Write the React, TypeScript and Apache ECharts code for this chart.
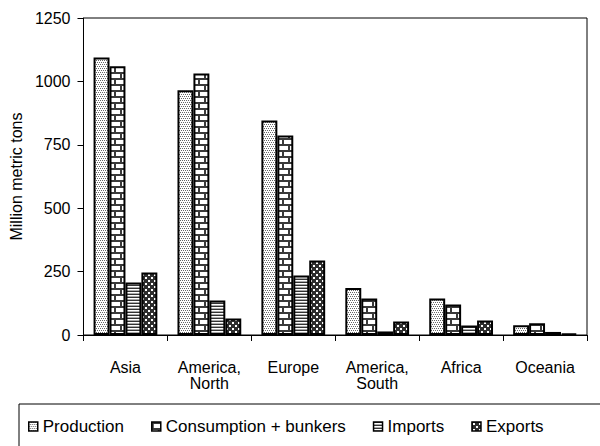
import React, { useEffect, useRef } from "react";
import * as echarts from "echarts";

const categories = ["Asia", "America,\nNorth", "Europe", "America,\nSouth", "Africa", "Oceania"];
const production = [1094, 965, 846, 185, 144, 38];
const consumption = [1060, 1031, 787, 144, 120, 46];
const imports = [207, 136, 235, 14, 37, 12];
const exportsData = [246, 65, 294, 53, 57, 5];
const seriesNames = ["Production", "Consumption + bunkers", "Imports", "Exports"];
const yAxisTitle = "Million metric tons";
const yMin = 0;
const yMax = 1250;
const yInterval = 250;

const FONT = "'Liberation Sans', Arial, sans-serif";

function makePattern(w: number, h: number, draw: (ctx: CanvasRenderingContext2D) => void) {
  const c = document.createElement("canvas");
  c.width = w;
  c.height = h;
  const ctx = c.getContext("2d") as CanvasRenderingContext2D;
  draw(ctx);
  return { image: c, repeat: "repeat", imageWidth: w, imageHeight: h } as any;
}

export default function App() {
  const ref = useRef<HTMLDivElement>(null);
  useEffect(() => {
    if (!ref.current) return;
    const chart = echarts.init(ref.current, null, { renderer: "svg" });

    const pProd = makePattern(4, 4, (ctx) => {
      ctx.fillStyle = "#ffffff";
      ctx.fillRect(0, 0, 4, 4);
      ctx.fillStyle = "#666666";
      ctx.fillRect(0, 0, 1, 1);
      ctx.fillRect(2, 0, 1, 1);
      ctx.fillRect(1, 2, 1, 1);
      ctx.fillRect(3, 2, 1, 1);
    });
    const pCons = makePattern(12, 12, (ctx) => {
      ctx.fillStyle = "#ffffff";
      ctx.fillRect(0, 0, 12, 12);
      ctx.fillStyle = "#3a3a3a";
      ctx.fillRect(0, 0, 12, 2);
      ctx.fillRect(0, 6, 12, 2);
      ctx.fillRect(0, 2, 2, 4);
      ctx.fillRect(6, 8, 2, 4);
    });
    const pImp = makePattern(3, 3, (ctx) => {
      ctx.fillStyle = "#ffffff";
      ctx.fillRect(0, 0, 3, 3);
      ctx.fillStyle = "#333333";
      ctx.fillRect(0, 0, 3, 1);
      ctx.fillStyle = "#aaaaaa";
      ctx.fillRect(0, 2, 3, 1);
    });
    const pExp = makePattern(6, 6, (ctx) => {
      ctx.fillStyle = "#2e2e2e";
      ctx.fillRect(0, 0, 6, 6);
      ctx.fillStyle = "#ffffff";
      ctx.fillRect(1, 1, 2, 2);
      ctx.fillRect(4, 4, 2, 2);
    });
    const patterns = [pProd, pCons, pImp, pExp];
    const values = [production, consumption, imports, exportsData];

    chart.setOption({
      animation: false,
      backgroundColor: "#ffffff",
      textStyle: { fontFamily: FONT, color: "#000" },
      grid: {
        left: 80,
        right: 13,
        top: 18,
        bottom: 111,
        show: true,
        borderColor: "#000",
        borderWidth: 1,
        backgroundColor: "transparent",
      },
      legend: {
        show: true,
        data: seriesNames,
        left: 19,
        top: 404,
        width: 700,
        orient: "horizontal",
        padding: [14, 120, 40, 9],
        borderColor: "#000",
        borderWidth: 1,
        itemWidth: 9,
        itemHeight: 9,
        itemGap: 27,
        icon: "rect",
        itemStyle: { borderColor: "#000", borderWidth: 1.5 },
        textStyle: { fontFamily: FONT, fontSize: 17, color: "#000" },
      },
      xAxis: {
        type: "category",
        data: categories,
        axisLine: { show: true, lineStyle: { color: "#000", width: 1 } },
        axisTick: { show: true, length: 6, lineStyle: { color: "#000" } },
        axisLabel: { margin: 24, fontSize: 16, lineHeight: 16, color: "#000", fontFamily: FONT },
        splitLine: { show: false },
      },
      yAxis: {
        type: "value",
        min: yMin,
        max: yMax,
        interval: yInterval,
        name: yAxisTitle,
        nameLocation: "middle",
        nameGap: 53,
        nameTextStyle: { fontSize: 16, color: "#000", fontFamily: FONT },
        axisLine: { show: true, lineStyle: { color: "#000", width: 1 } },
        axisTick: { show: true, length: 6, lineStyle: { color: "#000" } },
        axisLabel: {
          margin: 13,
          fontSize: 16,
          color: "#000",
          fontFamily: FONT,
          formatter: (v: number) => String(v),
        },
        splitLine: { show: false },
      },
      series: seriesNames.map((name, i) => ({
        name,
        type: "bar",
        data: values[i],
        barGap: "0%",
        barCategoryGap: "24%",
        itemStyle: { color: patterns[i], borderColor: "#000", borderWidth: 2 },
        emphasis: { disabled: true },
      })),
    });
    return () => chart.dispose();
  }, []);
  return <div ref={ref} style={{ width: 600, height: 446, position: "absolute", left: 0, top: 0 }} />;
}
